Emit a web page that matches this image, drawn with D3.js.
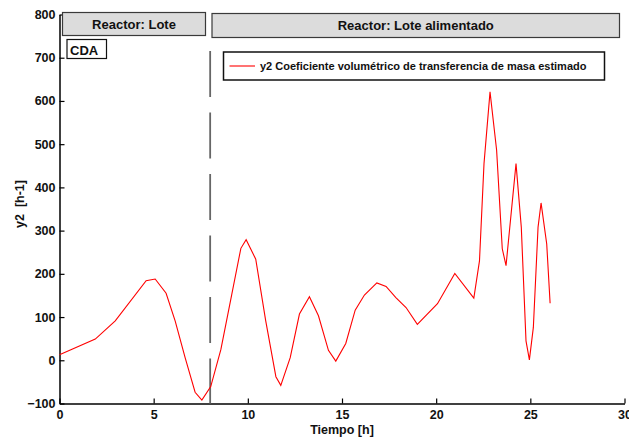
<!DOCTYPE html>
<html><head><meta charset="utf-8">
<script src="https://cdn.jsdelivr.net/npm/d3@7"></script>
<style>
body{margin:0;background:#fff;}
svg{display:block;font-family:"Liberation Sans",Arial,sans-serif;}
</style></head>
<body><svg id="c" width="629" height="439"></svg>
<script>
const times = [0, 1.9, 2.96, 4.6, 5.08, 5.66, 6.14, 6.67, 7.2, 7.56, 8.03, 8.57, 9.15, 9.63, 9.91, 10.42, 10.95, 11.49, 11.75, 12.25, 12.74, 13.27, 13.75, 14.28, 14.67, 15.2, 15.7, 16.19, 16.85, 17.34, 17.86, 18.4, 19.0, 20.07, 20.99, 22.0, 22.3, 22.54, 22.86, 23.21, 23.51, 23.71, 24.24, 24.52, 24.77, 24.95, 25.16, 25.41, 25.57, 25.87, 26.05];
const y2 = [13, 49, 91, 184, 188, 155, 91, 6, -74, -92, -61, 25, 153, 259, 279, 234, 91, -38, -58, 6, 107, 147, 103, 23, -2, 39, 116, 151, 179, 171, 145, 122, 83, 131, 201, 144, 230, 455, 621, 486, 258, 219, 455, 308, 45, 1, 76, 308, 364, 269, 132];
const xTicks = [0, 5, 10, 15, 20, 25, 30];
const yTicks = [-100, 0, 100, 200, 300, 400, 500, 600, 700, 800];
const switchTime = 8;
const phaseLabels = ["Reactor: Lote", "Reactor: Lote alimentado"];
const legendLabel = "y2 Coeficiente volumétrico de transferencia de masa estimado";
const xLabel = "Tiempo [h]";
const yLabel = "y2  [h-1]";

const svg = d3.select("#c");
const L = 59.5, R = 624.5, T = 14.5, B = 403.5;
const x = d3.scaleLinear().domain([0, 30]).range([L, R]);
const y = d3.scaleLinear().domain([-100, 800]).range([B, T]);

// axes
const xa = svg.append("g").attr("transform", `translate(0,${B})`)
  .call(d3.axisBottom(x).tickValues(xTicks).tickSizeInner(-5).tickSizeOuter(0).tickPadding(8));
const ya = svg.append("g").attr("transform", `translate(${L},0)`)
  .call(d3.axisLeft(y).tickValues(yTicks).tickSizeInner(-5).tickSizeOuter(0).tickPadding(4));
[xa, ya].forEach(g => {
  g.select(".domain").attr("stroke", "#000").attr("stroke-width", 1.5);
  g.selectAll(".tick line").attr("stroke", "#000").attr("stroke-width", 1.2);
  g.selectAll(".tick text").attr("font-size", 12.5).attr("font-weight", "bold")
    .attr("fill", "#111").attr("font-family", "Liberation Sans, Arial, sans-serif");
});
xa.selectAll(".tick text").attr("dy", "0.6em");

// labels
svg.append("text").attr("x", (L + R) / 2).attr("y", 434).attr("text-anchor", "middle")
  .attr("font-size", 12.5).attr("font-weight", "bold").attr("fill", "#111").text(xLabel);
svg.append("text").attr("transform", `translate(24,${(T + B) / 2 - 5}) rotate(-90)`)
  .attr("text-anchor", "middle").attr("font-size", 12.5).attr("font-weight", "bold")
  .attr("fill", "#111").attr("xml:space", "preserve").style("white-space", "pre").text(yLabel);

// dashed switch line
svg.append("line").attr("x1", x(switchTime)).attr("x2", x(switchTime))
  .attr("y1", 51).attr("y2", B).attr("stroke", "#666").attr("stroke-width", 1.8)
  .attr("stroke-dasharray", "46 15.5");

// data line
svg.append("path").datum(times.map((t, i) => [t, y2[i]]))
  .attr("fill", "none").attr("stroke", "#ff0000").attr("stroke-width", 1.1)
  .attr("d", d3.line().x(d => x(d[0])).y(d => y(d[1])));

// phase header boxes
const boxes = [
  {x0: 62.5, x1: 205.5, y0: 12.5, y1: 35.5, label: phaseLabels[0]},
  {x0: 212, x1: 619.5, y0: 13.5, y1: 37.5, label: phaseLabels[1]}
];
boxes.forEach(b => {
  svg.append("rect").attr("x", b.x0).attr("y", b.y0).attr("width", b.x1 - b.x0).attr("height", b.y1 - b.y0)
    .attr("fill", "#dcdcdc").attr("stroke", "#3a3a3a").attr("stroke-width", 1.2);
  svg.append("text").attr("x", (b.x0 + b.x1) / 2).attr("y", (b.y0 + b.y1) / 2 + 4.5)
    .attr("text-anchor", "middle").attr("font-size", 13).attr("font-weight", "bold")
    .attr("fill", "#111").text(b.label);
});

// CDA box
svg.append("rect").attr("x", 67).attr("y", 39.5).attr("width", 39.5).attr("height", 19)
  .attr("fill", "#fff").attr("stroke", "#111").attr("stroke-width", 1.2);
svg.append("text").attr("x", 70).attr("y", 54.5).attr("font-size", 13).attr("font-weight", "bold")
  .attr("fill", "#111").text("CDA");

// legend
svg.append("rect").attr("x", 223.5).attr("y", 52).attr("width", 381).attr("height", 28)
  .attr("fill", "#fff").attr("stroke", "#111").attr("stroke-width", 1.5);
svg.append("line").attr("x1", 229.5).attr("x2", 255).attr("y1", 66).attr("y2", 66)
  .attr("stroke", "#ff0000").attr("stroke-width", 1.1);
svg.append("text").attr("x", 260).attr("y", 70).attr("font-size", 11).attr("font-weight", "bold")
  .attr("fill", "#111").text(legendLabel);
</script></body></html>
